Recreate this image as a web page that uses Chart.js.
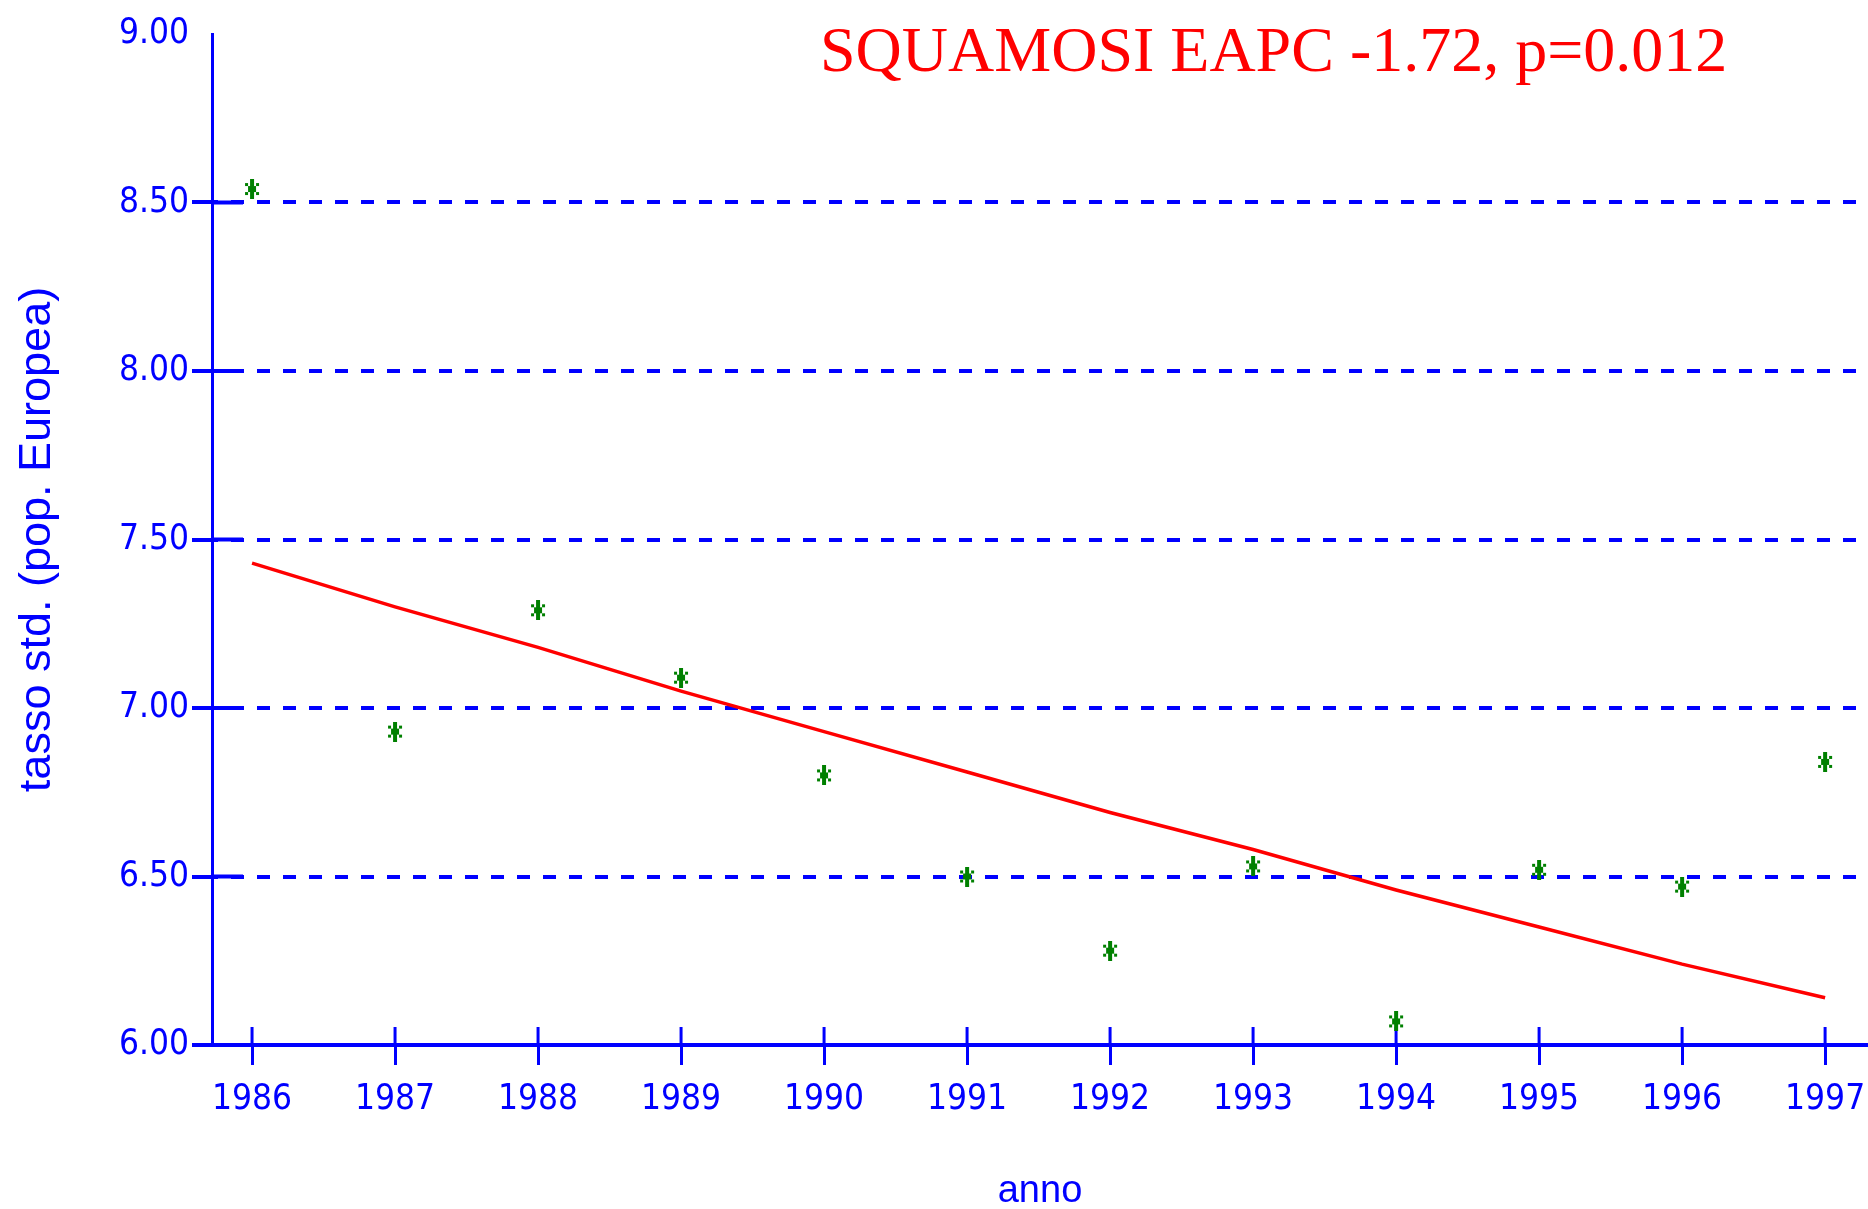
<!DOCTYPE html>
<html>
<head>
<meta charset="utf-8">
<title>SQUAMOSI EAPC</title>
<script src="https://cdn.jsdelivr.net/npm/chart.js@4.4.1/dist/chart.umd.min.js"></script>
<style>
    html, body { margin: 0; padding: 0; background: #fff; overflow: hidden; }
    #chart { display: block; }
</style>
</head>
<body>
<canvas id="chart" width="1868" height="1209"></canvas>
<script>
// values
const years = [1986, 1987, 1988, 1989, 1990, 1991, 1992, 1993, 1994, 1995, 1996, 1997];
const rates = [8.54, 6.93, 7.29, 7.09, 6.80, 6.50, 6.28, 6.53, 6.07, 6.52, 6.47, 6.84];
const trend = [7.43, 7.30, 7.18, 7.05, 6.93, 6.81, 6.69, 6.58, 6.46, 6.35, 6.24, 6.14];
const yTicks = [6.0, 6.5, 7.0, 7.5, 8.0, 8.5, 9.0];
const titleText = 'SQUAMOSI EAPC -1.72, p=0.012';

const BLUE = '#0000ff';
const GREEN = '#008000';
const RED = '#ff0000';
const tickFont = { family: "'Liberation Sans Narrow', 'DejaVu Sans Condensed', 'Liberation Sans', sans-serif", size: 35 };

// little green asterisk used as point marker
function makeStar() {
    const c = document.createElement('canvas');
    c.width = 16; c.height = 20;
    const g = c.getContext('2d');
    g.fillStyle = GREEN;
    g.fillRect(6, 0, 4, 20);
    g.fillRect(4, 7, 8, 6);
    g.fillRect(1, 4, 3, 3);
    g.fillRect(12, 4, 3, 3);
    g.fillRect(1, 13, 3, 3);
    g.fillRect(12, 13, 3, 3);
    return c;
}

const gridColor = ctx => (ctx.tick && ctx.tick.value === 9) ? 'rgba(0,0,0,0)' : BLUE;

// solid tick stubs reaching into the plot area, plus the red heading
const extras = {
    id: 'extras',
    beforeDatasetsDraw(chart) {
        const { ctx, chartArea, scales } = chart;
        ctx.save();
        ctx.strokeStyle = BLUE;
        ctx.lineWidth = 4;
        scales.y.ticks.forEach(t => {
            if (t.value === 9) return;
            const py = scales.y.getPixelForValue(t.value);
            ctx.beginPath();
            ctx.moveTo(chartArea.left, py);
            ctx.lineTo(chartArea.left + 31, py);
            ctx.stroke();
        });
        ctx.lineWidth = 3;
        scales.x.ticks.forEach(t => {
            const px = scales.x.getPixelForValue(t.value);
            ctx.beginPath();
            ctx.moveTo(px, chartArea.bottom - 18);
            ctx.lineTo(px, chartArea.bottom);
            ctx.stroke();
        });
        ctx.restore();
    },
    afterDraw(chart) {
        const ctx = chart.ctx;
        ctx.save();
        ctx.font = "64px 'Liberation Serif', 'Times New Roman', serif";
        ctx.fillStyle = RED;
        ctx.textAlign = 'left';
        ctx.textBaseline = 'alphabetic';
        ctx.fillText(titleText, 820, 71);
        ctx.restore();
    }
};

new Chart(document.getElementById('chart'), {
    type: 'scatter',
    data: {
        datasets: [
            {
                label: 'tasso',
                data: years.map((yr, i) => ({ x: yr, y: rates[i] })),
                pointStyle: makeStar(),
                pointRadius: 8,
                showLine: false
            },
            {
                label: 'trend',
                data: years.map((yr, i) => ({ x: yr, y: trend[i] })),
                showLine: true,
                borderColor: RED,
                borderWidth: 3.5,
                pointRadius: 0,
                tension: 0
            }
        ]
    },
    options: {
        responsive: false,
        animation: false,
        layout: { autoPadding: false, padding: { top: 34, right: 0, left: 0, bottom: 0 } },
        plugins: { legend: { display: false }, tooltip: { enabled: false } },
        scales: {
            x: {
                type: 'linear',
                min: 1985.72,
                max: 1997.3,
                afterBuildTicks: s => { s.ticks = years.map(v => ({ value: v })); },
                // fixed height, and no extra side padding so the axis runs to the edge
                afterFit: s => { s.height = 164; s.paddingLeft = 0; s.paddingRight = 0; },
                grid: { drawOnChartArea: false, tickLength: 20, tickWidth: 3, tickColor: BLUE, color: BLUE },
                border: { color: BLUE, width: 4 },
                ticks: { color: BLUE, padding: 14, font: tickFont, maxRotation: 0, autoSkip: false, callback: v => String(v) },
                title: { display: true, text: 'anno', color: BLUE, padding: 0,
                         font: { family: "'Liberation Sans', sans-serif", size: 38, lineHeight: 0.9 } }
            },
            y: {
                type: 'linear',
                min: 6,
                max: 9,
                afterBuildTicks: s => { s.ticks = yTicks.map(v => ({ value: v })); },
                afterFit: s => { s.width = 212; },
                grid: { color: gridColor, lineWidth: 4, tickLength: 20, tickWidth: 4, tickColor: gridColor },
                border: { color: BLUE, width: 3, dash: [13, 13], dashOffset: 9 },
                ticks: { color: BLUE, padding: 3, font: tickFont, callback: v => v.toFixed(2) },
                title: { display: true, text: 'tasso std. (pop. Europea)', color: BLUE, padding: { top: 11, bottom: 0 },
                         font: { family: "'Liberation Sans', sans-serif", size: 45 } }
            }
        }
    },
    plugins: [extras]
});
</script>
</body>
</html>
